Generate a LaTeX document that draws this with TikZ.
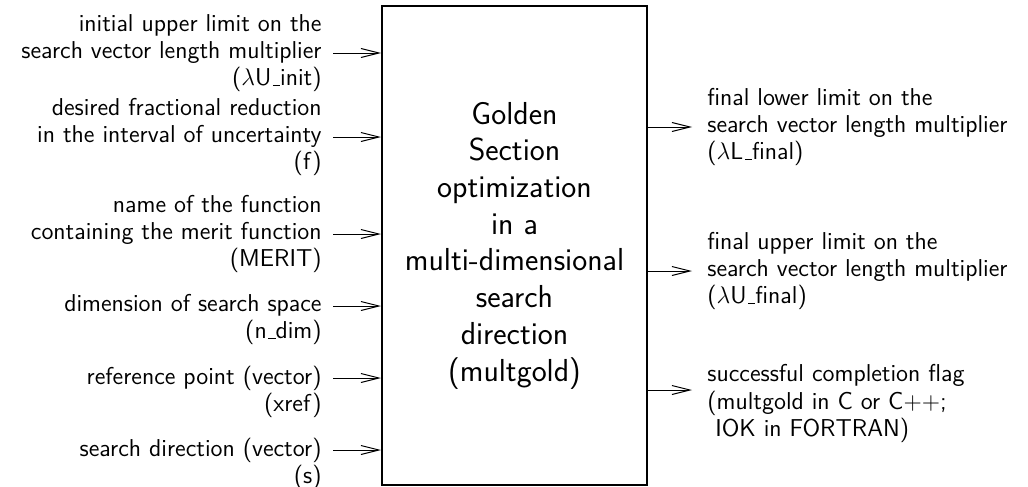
\documentclass[tikz,border=0pt]{standalone}
\usetikzlibrary{arrows.meta}
\newcommand\usc{\leavevmode\kern.06em\vbox{\hrule width.3em height .5pt}}
\begin{document}
\begin{tikzpicture}[x=0.5pt,y=-0.5pt,
  lab/.style={font=\fontsize{12.2}{13.7}\selectfont\sffamily, inner sep=0pt},
  llab/.style={lab, anchor=east, align=right},
  rlab/.style={lab, anchor=west, align=left},
  arr/.style={line width=0.5pt, -{Straight Barb[length=9pt,width=4.5pt]}},
  mainbox/.style={draw, line width=1pt, minimum width=132.5pt, minimum height=239.5pt,
    align=center, font=\fontsize{15.9}{18.35}\selectfont\sffamily}]
\useasboundingbox (0,0) rectangle (1028,487);
\node[mainbox] (box) at (514.5,245.5) {Golden\\Section\\optimization\\in a\\multi-dimensional\\search\\direction\\(multgold)};
% input points
\coordinate (i1) at (box.west |- 0,53);
\coordinate (i2) at (box.west |- 0,137);
\coordinate (i3) at (box.west |- 0,234);
\coordinate (i4) at (box.west |- 0,306);
\coordinate (i5) at (box.west |- 0,378);
\coordinate (i6) at (box.west |- 0,450);
% output points
\coordinate (o1) at (box.east |- 0,127);
\coordinate (o2) at (box.east |- 0,271);
\coordinate (o3) at (box.east |- 0,390);
% input labels
\node[llab] (l1) at (322,53) {initial upper limit on the\\search vector length multiplier\\($\lambda$U\usc init)};
\node[llab] (l2) at (322,137) {desired fractional reduction\\in the interval of uncertainty\\(f)};
\node[llab] (l3) at (322,234) {name of the function\\containing the merit function\\(MERIT)};
\node[llab] (l4) at (322,319.7) {dimension of search space\\(n\usc dim)};
\node[llab] (l5) at (322,391.7) {reference point (vector)\\(xref)};
\node[llab] (l6) at (322,463.7) {search direction (vector)\\(s)};
% output labels
\node[rlab] (r1) at (707,127) {final lower limit on the\\search vector length multiplier\\($\lambda$L\usc final)};
\node[rlab] (r2) at (707,271) {final upper limit on the\\search vector length multiplier\\($\lambda$U\usc final)};
\node[rlab] (r3) at (707,403.7) {successful completion flag\\(multgold in C or C$++$;\\~IOK in FORTRAN)};
% arrows
\foreach \n in {1,...,6}{
  \draw[arr] ([xshift=5.5pt]l\n.east |- i\n) -- (i\n);
}
\foreach \n in {1,2,3}{
  \draw[arr] (o\n) -- ([xshift=-7.5pt]r\n.west |- o\n);
}
\end{tikzpicture}
\end{document}
